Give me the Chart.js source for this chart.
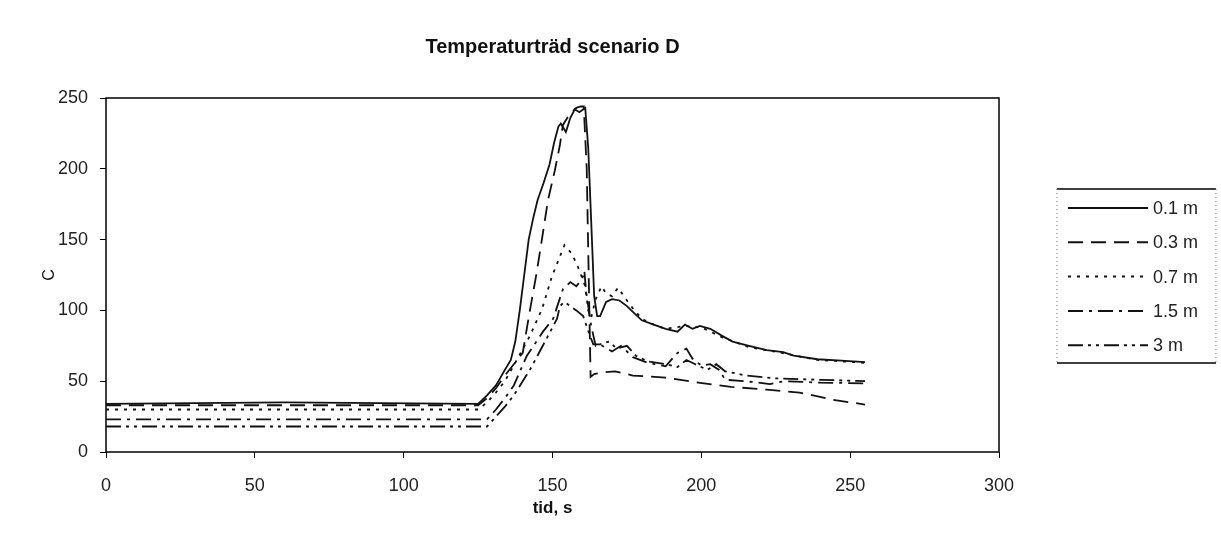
<!DOCTYPE html>
<html>
<head>
<meta charset="utf-8">
<script src="https://cdn.jsdelivr.net/npm/chart.js@4/dist/chart.umd.min.js"></script>
<style>
  html, body { margin: 0; padding: 0; background: #fff; }
  #wrap { width: 1221px; height: 540px; }
</style>
</head>
<body>
<div id="wrap"><canvas id="chart" width="1221" height="540"></canvas></div>
<script>
// series labels (distance)
const seriesLabels = ["0.1 m", "0.3 m", "0.7 m", "1.5 m", "3 m"];

// 0.1 m
const t01 = [0, 60, 125, 128, 131, 134, 136, 137.5, 139, 140.5, 142, 143.5, 145, 147, 149, 150.5, 152, 152.8, 154.5, 156, 157.5, 159, 161, 162, 163, 164, 165, 166, 168, 170, 172.5, 175, 177, 180, 184, 188, 192, 194.5, 197, 199.5, 203, 207, 210.5, 216, 222, 227.5, 231, 239, 247, 255];
const v01 = [34, 35, 34, 40, 47, 58, 65, 78, 100, 125, 150, 165, 178, 190, 203, 218, 230, 232, 226, 236, 242, 240, 243, 215, 163, 110, 96, 96, 106, 108, 107, 103, 99, 93, 90, 87, 85, 90, 87, 89, 87, 82, 78, 75, 72, 70.5, 68, 65.5, 64.5, 63.5];

// 0.3 m
const t03 = [0, 125, 128, 131, 134, 137, 140, 142, 144.7, 146.8, 148.5, 150.8, 152.5, 153.5, 155, 156.5, 158, 159.5, 160.5, 161.5, 162.2, 162.8, 164, 166, 171, 177, 188, 199, 210, 222, 233, 244, 255];
const v03 = [33, 33, 38, 45, 54, 62, 70, 95, 127, 155, 178, 199, 217, 231, 236, 240, 243, 244, 244, 200, 120, 53, 55, 56, 57, 54, 52.5, 49, 46, 44, 42, 37, 33.5];

// 0.7 m
const t07 = [0, 125, 128, 131, 134, 138, 142.4, 146.5, 149.8, 151.8, 154, 156.5, 158.5, 161, 162, 163, 164.5, 166.5, 168, 170, 172, 174, 176, 180, 184, 188, 194.5, 200, 207, 216, 227, 239, 255];
const v07 = [30, 30, 35, 42, 50, 65, 82, 101, 124, 134.5, 146, 140, 131, 117, 100, 95, 108, 117, 112, 110, 116, 110, 104, 94, 90, 87, 89, 88, 81, 74, 70, 65, 63];

// 1.5 m
const t15 = [0, 128, 131, 134, 137, 141.4, 146.8, 150.2, 153.5, 156, 158, 160, 160.7, 161.3, 163, 164.5, 166, 170, 173, 177, 182, 188, 192, 195, 197, 200, 203, 206, 208, 215, 223, 228, 240, 255];
const v15 = [23, 23, 30, 38, 47, 68, 85, 94, 115, 120, 117, 122.5, 128, 113, 89, 75, 76, 71, 75, 67, 63, 60.5, 70, 73, 66, 61, 62, 58, 51, 50, 48, 50, 49, 48.5];

// 3 m
const t30 = [0, 128, 131, 134, 137, 142.4, 148, 151.5, 152.5, 154, 156, 158, 160.3, 162.6, 163.7, 166, 169, 171.6, 175, 178, 182, 188, 192, 195, 198, 202, 205, 208, 215, 225, 240, 255];
const v30 = [18, 18, 25, 32, 40, 58, 80, 94, 103, 106, 103, 100, 96, 82, 76, 76, 78, 73, 75, 68, 64, 62, 60, 65, 62, 58, 62, 57, 54, 52, 51, 50];

// axis ticks
const xTicks = [0, 50, 100, 150, 200, 250, 300];
const yTicks = [0, 50, 100, 150, 200, 250];

const FONT = "'Liberation Sans', Arial, sans-serif";

function pts(t, v) {
  return t.map((x, i) => ({ x: x, y: v[i] }));
}

function makeSet(label, t, v, dash) {
  return {
    label: label,
    data: pts(t, v),
    borderColor: "#111",
    borderWidth: 1.8,
    borderDash: dash,
    pointRadius: 0,
    tension: 0,
    fill: false
  };
}

// frame round the plot area
const plotFrame = {
  id: "plotFrame",
  beforeDatasetsDraw(chart) {
    const a = chart.chartArea;
    const ctx = chart.ctx;
    ctx.save();
    ctx.strokeStyle = "#000";
    ctx.lineWidth = 1.5;
    ctx.strokeRect(a.left, a.top, a.right - a.left, a.bottom - a.top);
    ctx.restore();
  }
};

// legend box on the right, Excel style
const legendBox = {
  id: "legendBox",
  afterDraw(chart) {
    const ctx = chart.ctx;
    const left = 1057, top = 189, right = 1216, bottom = 363;
    ctx.save();
    ctx.strokeStyle = "#000";
    ctx.lineWidth = 1.4;
    ctx.beginPath();
    ctx.moveTo(left, top); ctx.lineTo(right, top);
    ctx.moveTo(left, bottom); ctx.lineTo(right, bottom);
    ctx.stroke();
    ctx.setLineDash([1, 3]);
    ctx.strokeStyle = "#777";
    ctx.lineWidth = 1;
    ctx.beginPath();
    ctx.moveTo(left, top); ctx.lineTo(left, bottom);
    ctx.moveTo(right, top); ctx.lineTo(right, bottom);
    ctx.stroke();
    chart.data.datasets.forEach((ds, i) => {
      const y = top + 19 + i * 34.3;
      ctx.setLineDash(ds.borderDash || []);
      ctx.strokeStyle = ds.borderColor;
      ctx.lineWidth = 2;
      ctx.beginPath();
      ctx.moveTo(1068, y);
      ctx.lineTo(1148, y);
      ctx.stroke();
      ctx.setLineDash([]);
      ctx.fillStyle = "#222";
      ctx.font = "18px " + FONT;
      ctx.textBaseline = "middle";
      ctx.textAlign = "left";
      ctx.fillText(ds.label, 1153, y + 1);
    });
    ctx.restore();
  }
};

const ctx = document.getElementById("chart").getContext("2d");
const chart = new Chart(ctx, {
  type: "line",
  data: {
    datasets: [
      makeSet(seriesLabels[0], t01, v01, []),
      makeSet(seriesLabels[1], t03, v03, [15, 8]),
      makeSet(seriesLabels[2], t07, v07, [3, 6]),
      makeSet(seriesLabels[3], t15, v15, [15, 6, 3, 6]),
      makeSet(seriesLabels[4], t30, v30, [15, 5, 3, 5, 3, 5])
    ]
  },
  options: {
    responsive: false,
    animation: false,
    layout: { padding: { left: 0, right: 222, top: 0, bottom: 0 } },
    plugins: {
      legend: { display: false },
      tooltip: { enabled: false },
      title: {
        display: true,
        text: "Temperaturträd scenario D",
        fullSize: false,
        color: "#111",
        font: { family: FONT, size: 20, weight: "bold" },
        padding: { top: 35, bottom: 39 }
      }
    },
    scales: {
      x: {
        type: "linear",
        min: 0,
        max: 300,
        afterFit: s => { s.height = 88; },
        afterBuildTicks: s => { s.ticks = xTicks.map(v => ({ value: v })); },
        border: { display: false },
        grid: { display: true, drawOnChartArea: false, drawTicks: true, tickLength: 6, color: "#000", lineWidth: 1 },
        ticks: { color: "#222", padding: 17, maxRotation: 0, font: { family: FONT, size: 18 } },
        title: {
          display: true,
          text: "tid, s",
          color: "#111",
          font: { family: FONT, size: 17, weight: "bold" },
          padding: { top: 0, bottom: 21 }
        }
      },
      y: {
        min: 0,
        max: 250,
        afterFit: s => { s.width = 106; },
        afterBuildTicks: s => { s.ticks = yTicks.map(v => ({ value: v })); },
        border: { display: false },
        grid: { display: true, drawOnChartArea: false, drawTicks: true, tickLength: 6, color: "#000", lineWidth: 1 },
        ticks: { color: "#222", padding: 12, font: { family: FONT, size: 18 } },
        title: {
          display: true,
          text: "C",
          color: "#111",
          font: { family: FONT, size: 16 },
          padding: { top: 40, bottom: 0 }
        }
      }
    }
  },
  plugins: [plotFrame, legendBox]
});
</script>
</body>
</html>
